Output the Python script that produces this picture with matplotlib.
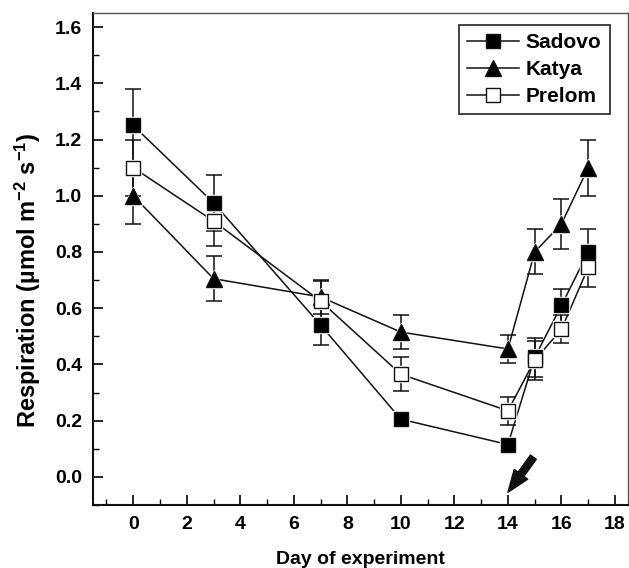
import matplotlib
matplotlib.use("Agg")
import matplotlib.pyplot as plt
from matplotlib.ticker import MultipleLocator

plt.rcParams['font.family'] = ['Liberation Sans', 'DejaVu Sans']
plt.rcParams['font.weight'] = 'bold'
plt.rcParams['mathtext.fontset'] = 'custom'
plt.rcParams['mathtext.rm'] = 'Liberation Sans:bold'
plt.rcParams['mathtext.bf'] = 'Liberation Sans:bold'
plt.rcParams['mathtext.default'] = 'bf'

days = [0, 3, 7, 10, 14, 15, 16, 17]

sadovo = [1.25, 0.975, 0.54, 0.205, 0.115, 0.425, 0.61, 0.80]
sadovo_err = [0.13, 0.10, 0.07, 0.02, 0.02, 0.07, 0.06, 0.08]

katya = [1.00, 0.705, 0.64, 0.515, 0.455, 0.80, 0.90, 1.10]
katya_err = [0.10, 0.08, 0.06, 0.06, 0.05, 0.08, 0.09, 0.10]

prelom = [1.10, 0.91, 0.625, 0.365, 0.235, 0.415, 0.525, 0.745]
prelom_err = [0.10, 0.09, 0.07, 0.06, 0.05, 0.07, 0.05, 0.07]

fig = plt.figure(figsize=(6.29, 5.68), dpi=100)
ax = fig.add_axes([0.148, 0.111, 0.851, 0.866])

series = [
    ("Sadovo", sadovo, sadovo_err, 's', 'black', 10),
    ("Katya", katya, katya_err, '^', 'black', 12),
    ("Prelom", prelom, prelom_err, 's', 'white', 10),
]

for name, vals, errs, mk, fc, ms in series:
    ax.errorbar(days, vals, yerr=errs, fmt='none', ecolor='#111111',
                elinewidth=1.1, capsize=5.6, capthick=1.1, zorder=2)
    ax.plot(days, vals, '-', color='#111111', lw=1.1, zorder=3)
for name, vals, errs, mk, fc, ms in series:
    ax.plot(days, vals, linestyle='none', marker=mk, markersize=ms + 1.5,
            markerfacecolor='white', markeredgecolor='white', zorder=4)
for name, vals, errs, mk, fc, ms in series:
    ax.plot(days, vals, linestyle='none', marker=mk, markersize=ms,
            markerfacecolor=fc, markeredgecolor='#111111', markeredgewidth=1.0,
            zorder=5)

handles = []
for name, vals, errs, mk, fc, ms in series:
    h, = ax.plot([], [], '-', color='#111111', lw=1.1, marker=mk, markersize=ms,
                 markerfacecolor=fc, markeredgecolor='#111111', label=name)
    handles.append(h)

leg = ax.legend(handles=handles, loc='upper right', bbox_to_anchor=(0.965, 0.976),
                fontsize=15, frameon=True, fancybox=False, handlelength=2.5,
                borderaxespad=0, handletextpad=0.3, labelspacing=0.38,
                borderpad=0.4)
leg.get_frame().set_edgecolor('black')
leg.get_frame().set_linewidth(1.3)

ax.annotate('', xy=(14, -0.055), xytext=(14.95, 0.07),
            arrowprops=dict(arrowstyle='simple,head_width=0.6,head_length=0.8,tail_width=0.26',
                            color='#111111', mutation_scale=20, shrinkA=0, shrinkB=0))

ax.set_xlim(-1.5, 18.5)
ax.set_ylim(-0.1, 1.65)
ax.xaxis.set_major_locator(MultipleLocator(2))
ax.xaxis.set_minor_locator(MultipleLocator(1))
ax.yaxis.set_minor_locator(MultipleLocator(0.1))
ax.set_yticks([0.0, 0.2, 0.4, 0.6, 0.8, 1.0, 1.2, 1.4, 1.6])
ax.set_yticklabels(['0.0', '0.2', '0.4', '0.6', '0.8', '1.0', '1.2', '1.4', '1.6'])

ax.tick_params(which='major', direction='in', length=7, width=1.2, labelsize=14,
               top=False, right=False, pad=8)
ax.tick_params(which='minor', direction='in', length=4, width=1.0,
               top=False, right=False)

for s in ['left', 'bottom']:
    ax.spines[s].set_linewidth(1.5)
    ax.spines[s].set_color('#111111')
for s in ['top', 'right']:
    ax.spines[s].set_linewidth(1.0)
    ax.spines[s].set_color('#555555')

ax.set_xlabel('Day of experiment', fontsize=14, fontweight='bold')
ax.xaxis.set_label_coords(0.5, -0.093)
ax.xaxis.label.set_va('top')
ax.set_ylabel('Respiration (µmol m$^{-2}$ s$^{-1}$)', fontsize=17,
              fontweight='bold')
ax.yaxis.set_label_coords(-0.094, 0.457)

fig.savefig('out.png', dpi=100)
